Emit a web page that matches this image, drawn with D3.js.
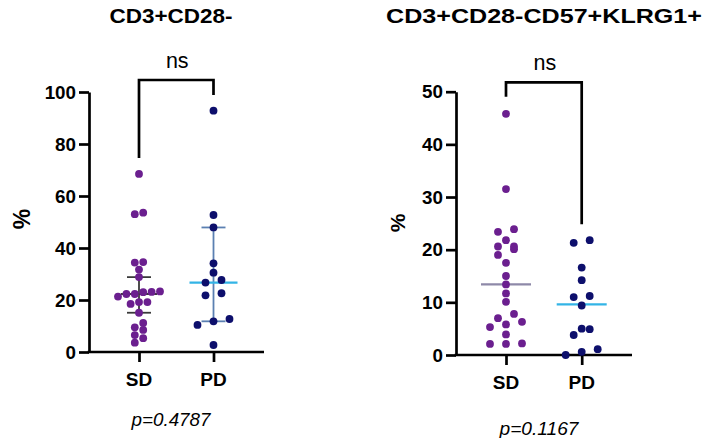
<!DOCTYPE html>
<html>
<head>
<meta charset="utf-8">
<script src="https://cdn.jsdelivr.net/npm/d3@7"></script>
<style>
  body { margin: 0; background: #fff; }
  svg text { font-family: "Liberation Sans", Arial, sans-serif; fill: #000; }
</style>
</head>
<body>
<svg id="chart" width="708" height="438"></svg>
<script>
// groups on the x axis
var groups = ["SD", "PD"];

// CD3+CD28- (%)
var cd28SD = [68.5, 53.6, 53.0, 34.6, 34.4, 31.7, 28.8, 22.3, 23.3, 22.3, 23.0, 21.3, 23.1,
              19.2, 18.5, 19.2, 15.1, 11.2, 9.5, 8.5, 5.3, 6.5, 3.6];
var cd28PD = [92.8, 52.7, 47.9, 34.1, 30.5, 27.7, 26.7, 22.6, 21.8, 12.7, 11.8, 10.4, 2.7];
var cd28Median = [22.3, 26.7];
var cd28Low = [15.1, 11.8];
var cd28High = [28.8, 47.9];

// CD3+CD28-CD57+KLRG1+ (%)
var klrgSD = [45.8, 31.5, 23.4, 23.9, 20.6, 20.6, 21.8, 20.1, 19.0, 17.5, 15.0, 13.4, 11.7,
              10.1, 7.8, 7.0, 5.3, 6.3, 5.8, 3.9, 2.1, 2.2, 2.1];
var klrgPD = [21.3, 21.8, 16.6, 14.2, 11.0, 11.2, 9.4, 4.9, 5.0, 3.8, 1.1, 0.6, 0.0];
var klrgMedian = [13.4, 9.6];

var ticks1 = [0, 20, 40, 60, 80, 100];
var ticks2 = [0, 10, 20, 30, 40, 50];
var titles = ["CD3+CD28-", "CD3+CD28-CD57+KLRG1+"];
var pValues = ["p=0.4787", "p=0.1167"];

var svg = d3.select("#chart");
var groupColor = { SD: "#6b1f8f", PD: "#0d0f6c" };

// GraphPad-like scatter: values that are close in pixels share a row, row is centred
function rowLayout(values, y) {
	var sorted = values.slice().sort(d3.ascending);
	var rows = [], cur = null;
	sorted.forEach(function(v) {
		if (cur && y(cur[0]) - y(v) < 6) cur.push(v);
		else { cur = [v]; rows.push(cur); }
	});
	var maxRow = d3.max(rows, function(d) { return d.length; });
	var step = Math.min(16, 42 / Math.max(1, maxRow - 1));
	var out = [];
	rows.forEach(function(row) {
		row.forEach(function(v, i) {
			out.push({ v: v, dx: (i - (row.length - 1) / 2) * step });
		});
	});
	return out;
}

function drawPanel(cfg) {
	var g = svg.append("g");
	var y = d3.scaleLinear().domain([cfg.ticks[0], cfg.ticks[cfg.ticks.length - 1]]).range(cfg.yRange);
	var x = d3.scalePoint().domain(groups).range(cfg.xPts);
	var r = 3.9;

	// y axis
	var ya = g.append("g")
		.attr("transform", "translate(" + cfg.axisX + ",0)")
		.call(d3.axisLeft(y).tickValues(cfg.ticks).tickSize(10).tickSizeOuter(0).tickPadding(3).tickFormat(d3.format("d")));
	ya.selectAll("path, line").attr("stroke", "#000").attr("stroke-width", 2.7);
	ya.selectAll("text").attr("font-size", 18.8).attr("font-weight", "bold");

	// x axis (line drawn by hand so it runs past the last group)
	var xa = g.append("g")
		.attr("transform", "translate(0," + cfg.yRange[0] + ")")
		.call(d3.axisBottom(x).tickSize(10).tickSizeOuter(0).tickFormat(""));
	xa.select(".domain").remove();
	xa.selectAll("line").attr("stroke", "#000").attr("stroke-width", 2.7);
	g.append("line")
		.attr("x1", cfg.axisX - 1.35).attr("x2", cfg.axisEnd)
		.attr("y1", cfg.yRange[0]).attr("y2", cfg.yRange[0])
		.attr("stroke", "#000").attr("stroke-width", 2.7);

	g.selectAll(".xlab").data(groups).enter().append("text")
		.attr("x", function(d) { return x(d); })
		.attr("y", cfg.xLabY)
		.attr("text-anchor", "middle")
		.attr("font-size", 19).attr("font-weight", "bold")
		.text(function(d) { return d; });

	// median / error bars, under the dots
	groups.forEach(function(gr, i) {
		var cx = x(gr);
		if (cfg.low) {
			g.append("line")
				.attr("x1", cx).attr("x2", cx)
				.attr("y1", y(cfg.low[i])).attr("y2", y(cfg.high[i]))
				.attr("stroke", cfg.barColor[i]).attr("stroke-width", 1.8);
			[cfg.low[i], cfg.high[i]].forEach(function(v) {
				g.append("line")
					.attr("x1", cx - 12).attr("x2", cx + 12)
					.attr("y1", y(v)).attr("y2", y(v))
					.attr("stroke", cfg.barColor[i]).attr("stroke-width", 1.8);
			});
		}
		g.append("line")
			.attr("x1", cx - cfg.medHalf[i]).attr("x2", cx + cfg.medHalf[i])
			.attr("y1", y(cfg.median[i])).attr("y2", y(cfg.median[i]))
			.attr("stroke", cfg.medColor[i]).attr("stroke-width", 2.2);
	});

	// dots
	groups.forEach(function(gr, i) {
		var pts = rowLayout(cfg.values[i], y);
		g.append("g").selectAll("circle").data(pts).enter().append("circle")
			.attr("cx", function(d) { return x(gr) + d.dx; })
			.attr("cy", function(d) { return y(d.v); })
			.attr("r", r)
			.attr("fill", groupColor[gr]);
	});

	// significance bracket
	var b = cfg.bracket;
	g.append("path")
		.attr("d", "M" + x("SD") + "," + b[1] + "V" + b[0] + "H" + x("PD") + "V" + b[2])
		.attr("fill", "none").attr("stroke", "#000").attr("stroke-width", 2.7);
	g.append("text")
		.attr("x", (x("SD") + x("PD")) / 2 + 1).attr("y", b[0] - 12)
		.attr("text-anchor", "middle").attr("font-size", 21.5)
		.text("ns");

	// "%" label
	g.append("text")
		.attr("transform", "translate(" + cfg.pctPos[0] + "," + cfg.pctPos[1] + ") rotate(-90)")
		.attr("text-anchor", "middle").attr("dy", "0.35em")
		.attr("font-size", cfg.pctSize).attr("font-weight", "bold")
		.text("%");

	// title and p value
	g.append("text")
		.attr("x", cfg.title[1]).attr("y", 23)
		.attr("text-anchor", "middle").attr("font-size", 19.5).attr("font-weight", "bold")
		.attr("textLength", cfg.title[2]).attr("lengthAdjust", "spacingAndGlyphs")
		.text(cfg.title[0]);
	g.append("text")
		.attr("x", cfg.p[1]).attr("y", cfg.p[2])
		.attr("text-anchor", "middle").attr("font-size", 17.7).attr("font-style", "italic")
		.attr("textLength", 79).attr("lengthAdjust", "spacingAndGlyphs")
		.attr("fill", "#222")
		.text(cfg.p[0]);
}

drawPanel({
	values: [cd28SD, cd28PD], median: cd28Median, low: cd28Low, high: cd28High,
	barColor: ["#3a3a3a", "#5b80b2"], medColor: ["#3a3a3a", "#33b4e6"], medHalf: [18, 24],
	ticks: ticks1, yRange: [352, 92], xPts: [139, 213.5],
	axisX: 89, axisEnd: 264, xLabY: 386,
	bracket: [80, 158, 95], pctPos: [22, 219], pctSize: 23,
	title: [titles[0], 171, 123], p: [pValues[0], 171, 426]
});

drawPanel({
	values: [klrgSD, klrgPD], median: klrgMedian,
	medColor: ["#8e89a8", "#33b4e6"], medHalf: [25, 25],
	ticks: ticks2, yRange: [355, 91.7], xPts: [506, 581.7],
	axisX: 456, axisEnd: 632, xLabY: 389,
	bracket: [82.3, 96.7, 224.3], pctPos: [398, 223], pctSize: 21,
	title: [titles[1], 544, 316], p: [pValues[1], 539, 435]
});
</script>
</body>
</html>
